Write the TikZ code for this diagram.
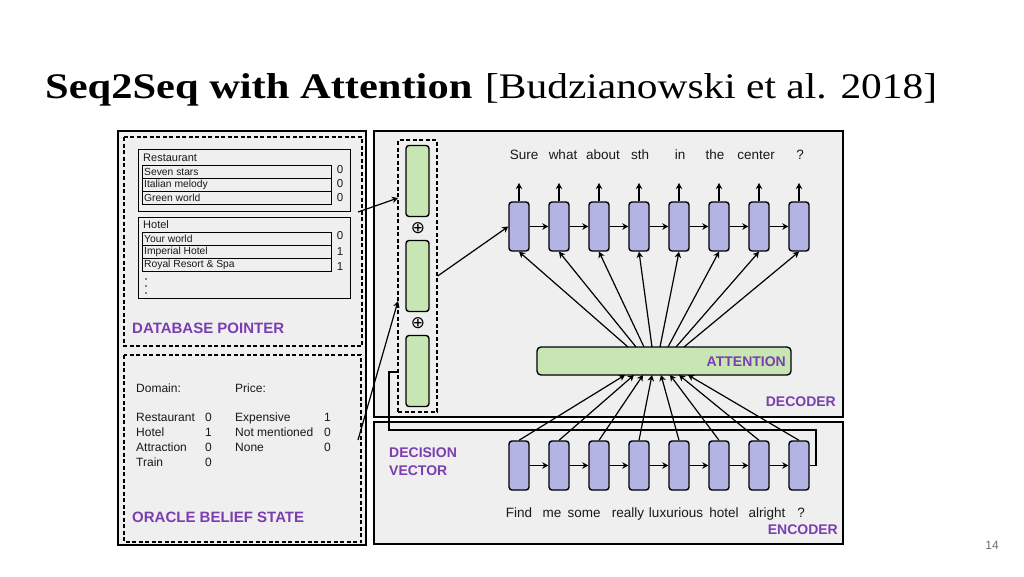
\documentclass[tikz,border=0pt]{standalone}
\usepackage{fontspec}
\setmainfont{Liberation Serif}
\newfontfamily\arial{Liberation Sans}
\newfontfamily\djv{DejaVu Sans}
\usetikzlibrary{arrows.meta}
\definecolor{bggray}{RGB}{239,239,239}
\definecolor{cellpurple}{RGB}{180,180,228}
\definecolor{cellgreen}{RGB}{200,230,180}
\definecolor{lblpurple}{RGB}{122,62,176}
\definecolor{txt}{RGB}{25,25,25}
\definecolor{pgnum}{RGB}{110,110,110}
\tikzset{
  pcell/.style={draw, fill=cellpurple, rounded corners=3pt, line width=1.4pt, minimum width=20pt, minimum height=49pt, inner sep=0pt},
  gcell/.style={draw, fill=cellgreen, rounded corners=3pt, line width=1.4pt, minimum width=23pt, minimum height=71pt, inner sep=0pt},
  arr/.style={line width=1.2pt, -{Stealth[length=6pt,width=6.5pt,inset=1.8pt]}},
  lbl/.style={font=\arial\bfseries\fontsize{15}{17}\selectfont, text=lblpurple, inner sep=0pt},
  smlbl/.style={font=\arial\bfseries\fontsize{14}{16}\selectfont, text=lblpurple, inner sep=0pt},
  word/.style={font=\arial\fontsize{13.5}{15}\selectfont, text=txt, anchor=base, inner sep=0pt},
  row/.style={draw, line width=1pt, minimum width=189pt, minimum height=13pt, inner sep=0pt},
  rowtxt/.style={font=\arial\fontsize{10.3}{11}\selectfont, text=txt, anchor=west, inner sep=0pt},
  val/.style={font=\arial\fontsize{11.5}{13}\selectfont, text=txt, inner sep=0pt},
  obs/.style={font=\arial\fontsize{12}{14}\selectfont, text=txt, anchor=base west, inner sep=0pt},
  dashbox/.style={draw, line width=1.3pt, dash pattern=on 4pt off 2.5pt},
  oplus/.style={font=\djv\fontsize{17}{17}\selectfont, inner sep=0pt},
}
\begin{document}
\begin{tikzpicture}[x=1pt,y=-1pt]
\useasboundingbox (0,0) rectangle (1024,576);
\fill[white] (0,0) rectangle (1024,576);

% title
\node[anchor=base west, inner sep=0pt] (title) at (45,98)
  {\scalebox{1.18}[1]{\fontsize{36}{40}\selectfont\bfseries Seq2Seq with Attention}};
\node[anchor=base west, inner sep=0pt] (cite) at (485,98)
  {\scalebox{1.15}[1]{\fontsize{36}{40}\selectfont [Budzianowski et al. 2018]}};
\node[font=\arial\fontsize{12}{14}\selectfont, text=pgnum] (pg) at (992,545) {14};

% ---------------- left panel ----------------
\draw[line width=1.5pt, fill=bggray] (118,131) rectangle (366,545);
\draw[dashbox] (124,137) rectangle (362,346);
\draw[dashbox] (124,355) rectangle (361,542);

% Restaurant
\draw[line width=1pt] (138,149) rectangle (350,211);
\node[rowtxt, font=\arial\fontsize{11}{12}\selectfont] (rest) at (143,158) {Restaurant};
\node[row, anchor=north west] (r1) at (142,165) {};
\node[row, anchor=north west] (r2) at (142,178) {};
\node[row, anchor=north west] (r3) at (142,191) {};
\node[rowtxt] at ([xshift=2pt]r1.west) {Seven stars};
\node[rowtxt] at ([xshift=2pt]r2.west) {Italian melody};
\node[rowtxt] at ([xshift=2pt]r3.west) {Green world};
\node[val] at (340,170) {0};
\node[val] at (340,184) {0};
\node[val] at (340,198) {0};

% Hotel
\draw[line width=1pt] (138,217) rectangle (350,298);
\node[rowtxt, font=\arial\fontsize{11}{12}\selectfont] (hot) at (143,225) {Hotel};
\node[row, anchor=north west] (h1) at (142,232) {};
\node[row, anchor=north west] (h2) at (142,245) {};
\node[row, anchor=north west] (h3) at (142,258) {};
\node[rowtxt] at ([xshift=2pt]h1.west) {Your world};
\node[rowtxt] at ([xshift=2pt]h2.west) {Imperial Hotel};
\node[rowtxt] at ([xshift=2pt]h3.west) {Royal Resort \& Spa};
\node[val] at (340,236) {0};
\node[val] at (340,252) {1};
\node[val] at (340,267) {1};
\fill[txt] (146,279) circle (0.8pt) (146,286) circle (0.8pt) (146,293) circle (0.8pt);

\node[lbl, anchor=west] (dbp) at (132,328) {DATABASE POINTER};

% Oracle belief state
\node[obs] at (136,392) {Domain:};
\node[obs] at (235,392) {Price:};
\node[obs] at (136,421) {Restaurant};
\node[obs] at (136,436) {Hotel};
\node[obs] at (136,451) {Attraction};
\node[obs] at (136,466) {Train};
\node[obs] at (205,421) {0};
\node[obs] at (205,436) {1};
\node[obs] at (205,451) {0};
\node[obs] at (205,466) {0};
\node[obs] at (235,421) {Expensive};
\node[obs] at (235,436) {Not mentioned};
\node[obs] at (235,451) {None};
\node[obs] at (324,421) {1};
\node[obs] at (324,436) {0};
\node[obs] at (324,451) {0};
\node[lbl, anchor=west] (obst) at (132,517) {ORACLE BELIEF STATE};

% ---------------- right panel ----------------
\draw[line width=1.5pt, fill=bggray] (374,131) rectangle (843,417);
\draw[line width=1.5pt, fill=bggray] (374,422) rectangle (843,544);

% decision vector column
\node[dashbox, minimum width=39pt, minimum height=272pt, inner sep=0pt] (dcol) at (417.5,276) {};
\node[gcell] (g1) at (417.5,181) {};
\node[gcell] (g2) at (417.5,276) {};
\node[gcell] (g3) at (417.5,371) {};
\node[oplus] (p1) at (418,228.5) {⊕};
\node[oplus] (p2) at (418,323.5) {⊕};

% cells
\foreach \i in {1,...,8} {
  \pgfmathsetmacro\xc{519+40*(\i-1)}
  \node[pcell] (d\i) at (\xc,226.5) {};
  \node[pcell] (e\i) at (\xc,465.5) {};
  \coordinate (up\i) at (\xc,183);
  \pgfmathsetmacro\xa{628+8*(\i-1)}
  \coordinate (atop\i) at (\xa,347);
  \pgfmathsetmacro\xb{625+9*(\i-1)}
  \coordinate (abot\i) at (\xb,375);
}

% attention
\node[draw, fill=cellgreen, rounded corners=4pt, line width=1.4pt, minimum width=254pt, minimum height=28pt, inner sep=0pt] (att) at (664,361) {};
\node[smlbl, anchor=east] (attl) at (786,362) {ATTENTION};

\foreach \i in {1,...,8} {
  \draw[arr] (d\i.north) -- (up\i);
  \draw[arr] (atop\i) -- (d\i.south);
  \draw[arr] (e\i.north) -- (abot\i);
}
\foreach \i/\j in {1/2,2/3,3/4,4/5,5/6,6/7,7/8} {
  \draw[arr] (d\i.east) -- (d\j.west);
  \draw[arr] (e\i.east) -- (e\j.west);
}

% words
\node[word] at (524,159) {Sure};
\node[word] at (563,159) {what};
\node[word] at (603,159) {about};
\node[word] at (640,159) {sth};
\node[word] at (680,159) {in};
\node[word] at (715,159) {the};
\node[word] at (756,159) {center};
\node[word] at (800,159) {?};

\node[word] at (519,517) {Find};
\node[word] at (552,517) {me};
\node[word] at (584,517) {some};
\node[word] at (628,517) {really};
\node[word] at (676,517) {luxurious};
\node[word] at (724,517) {hotel};
\node[word] at (767,517) {alright};
\node[word] at (801,517) {?};

\node[smlbl, anchor=east] (decl) at (836,402) {DECODER};
\node[smlbl, anchor=east] (encl) at (838,530) {ENCODER};
\node[smlbl, anchor=west, align=left] (dvl) at (389,461.5) {DECISION\\[2pt]VECTOR};

% connectors
\coordinate (c1) at (816,430);
\coordinate (c2) at (389,372);
\draw[line width=1.2pt] (e8.east) -| (c1) -| (c2) -- (dcol.west |- c2);

\coordinate (dbout) at (358,212);
\coordinate (dbin) at (398,198);
\draw[arr] (dbout) -- (dbin);
\coordinate (obout) at (358,440);
\coordinate (obin) at (398,301);
\draw[arr] (obout) -- (obin);
\draw[arr] (dcol.east) -- (d1.west);
\end{tikzpicture}
\end{document}
